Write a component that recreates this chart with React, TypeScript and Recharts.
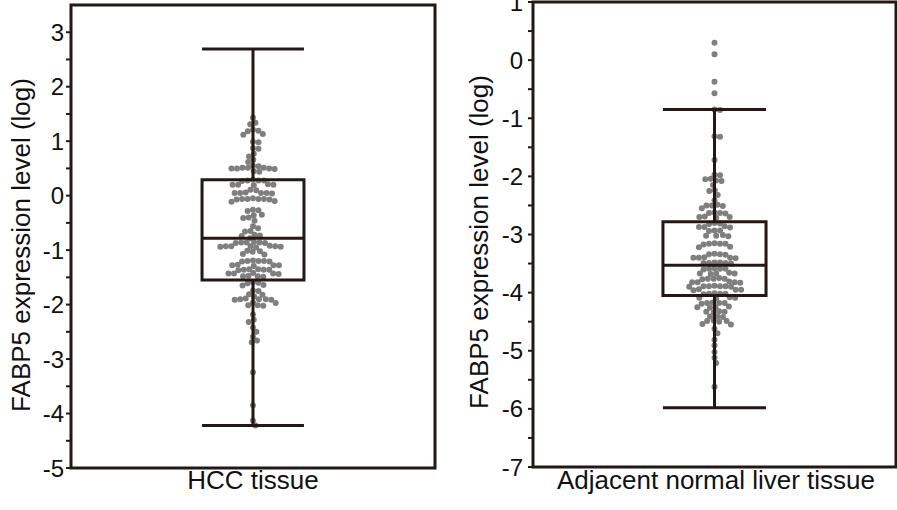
import React from 'react';
import { ScatterChart, Scatter, XAxis, YAxis, ReferenceArea, ReferenceLine } from 'recharts';

// FABP5 expression (log), one dot per sample
const hccValues = [
  1.43, 1.34, 1.31, 1.21, 1.19, 1.18, 1.13, 1.12, 0.99, 0.98, 0.87, 0.86, 0.77, 0.72, 0.66, 0.62, 0.55, 0.54,
  0.51, 0.51, 0.5, 0.5, 0.51, 0.49, 0.5, 0.45, 0.44,
  0.29, 0.28, 0.28, 0.27, 0.28,
  0.21, 0.2, 0.2, 0.19, 0.2,
  0.11, 0.1,
  0.05, 0.06, 0.05, 0.04, 0.05, 0.05,
  -0.06, -0.06, -0.05, -0.07, -0.06, -0.06, -0.07,
  -0.1, -0.11,
  -0.27, -0.28, -0.26,
  -0.35, -0.36, -0.4, -0.41, -0.46, -0.56, -0.6, -0.65, -0.66,
  -0.73, -0.72, -0.74, -0.78,
  -0.86, -0.87, -0.86, -0.85, -0.87, -0.86,
  -0.93, -0.94, -0.93, -0.92, -0.94, -0.93, -0.95, -0.93,
  -1.02, -1.01, -1.03, -1.07, -1.08,
  -1.2, -1.21, -1.19, -1.2, -1.21, -1.2,
  -1.28, -1.29, -1.28, -1.27, -1.28,
  -1.36, -1.35, -1.37, -1.36, -1.36, -1.35,
  -1.43, -1.44, -1.43, -1.42, -1.43,
  -1.48, -1.49, -1.48, -1.47,
  -1.6, -1.61, -1.59, -1.64, -1.65,
  -1.74, -1.75, -1.81, -1.82, -1.85,
  -1.9, -1.91, -1.9, -1.89, -1.9, -1.91,
  -1.96, -1.97,
  -2.01, -2.02, -2.01,
  -2.18, -2.28, -2.32, -2.42, -2.5, -2.59, -2.66, -2.69, -3.24, -3.85, -4.13, -4.22,
];

const adjValues = [
  0.3, 0.1, -0.37, -0.57, -0.85, -0.86, -1.31, -1.32, -1.72,
  -1.97, -1.98, -2.04, -2.05, -2.07, -2.08,
  -2.15, -2.24, -2.25, -2.32, -2.41,
  -2.5, -2.51, -2.5, -2.49, -2.55,
  -2.63, -2.64, -2.63, -2.62,
  -2.7, -2.71, -2.7, -2.69,
  -2.81, -2.82, -2.8,
  -2.87, -2.88, -2.87, -2.86,
  -2.93, -2.94, -2.93,
  -3.02, -3.03, -3.02, -3.01,
  -3.16, -3.17, -3.16, -3.15, -3.16,
  -3.21, -3.22,
  -3.34, -3.35, -3.34, -3.33,
  -3.4, -3.41, -3.4, -3.39, -3.4,
  -3.49, -3.48, -3.49, -3.5, -3.49, -3.48,
  -3.59, -3.6, -3.59, -3.58, -3.59,
  -3.67, -3.68, -3.67, -3.66, -3.67,
  -3.76, -3.77, -3.76, -3.75, -3.76,
  -3.82, -3.83, -3.82, -3.81, -3.82,
  -3.89, -3.9, -3.89, -3.88, -3.89, -3.9, -3.89,
  -3.95, -3.96, -3.95, -3.94,
  -4.02, -4.03, -4.02, -4.01, -4.02,
  -4.09, -4.1, -4.09, -4.08,
  -4.18, -4.19, -4.18, -4.17, -4.18,
  -4.25, -4.26, -4.25, -4.24,
  -4.33, -4.34, -4.33, -4.32,
  -4.41, -4.42, -4.41,
  -4.49, -4.5, -4.49, -4.48,
  -4.54, -4.55,
  -4.62, -4.7, -4.81, -4.91, -5.02, -5.12, -5.21, -5.62,
];

// [lower whisker, Q1, median, Q3, upper whisker]
const hccBox = [-4.22, -1.55, -0.78, 0.29, 2.69];
const adjBox = [-5.98, -4.05, -3.53, -2.78, -0.85];

const hccTicks = [-5, -4.5, -4, -3.5, -3, -2.5, -2, -1.5, -1, -0.5, 0, 0.5, 1, 1.5, 2, 2.5, 3];
const adjTicks = [-7, -6.5, -6, -5.5, -5, -4.5, -4, -3.5, -3, -2.5, -2, -1.5, -1, -0.5, 0, 0.5, 1];

const INK = '#231815';
const DOT = '#7f7f7f';
const FONT = '"Liberation Sans", Arial, Helvetica, sans-serif';
const DOT_R = 3;

// simple beeswarm: keep each dot as close to the centre as it can go without overlap
function swarm(values: number[], pxY: number, pxX: number, d: number) {
  const order = values.map((_, i) => i).sort((a, b) => values[b] - values[a]);
  const placed: { x: number; y: number }[] = [];
  const out: { x: number; y: number }[] = new Array(values.length);
  for (const i of order) {
    const y = values[i] * pxY;
    const blocks = placed
      .filter((p) => Math.abs(p.y - y) < d)
      .map((p) => {
        const h = Math.sqrt(d * d - (p.y - y) ** 2);
        return [p.x - h, p.x + h];
      });
    const cands = [0, ...blocks.flat()].sort((a, b) => Math.abs(a) - Math.abs(b) || b - a);
    const x = cands.find((c) => blocks.every(([lo, hi]) => c <= lo + 1e-6 || c >= hi - 1e-6)) ?? 0;
    placed.push({ x, y });
    out[i] = { x: x / pxX, y: values[i] };
  }
  return out;
}

const YTitle = ({ cx, cy }: { cx: number; cy: number }) => (
  <text
    x={cx}
    y={cy}
    transform={`rotate(-90 ${cx} ${cy})`}
    textAnchor="middle"
    dominantBaseline="central"
    fontSize={26}
    fontFamily={FONT}
    fill="#111"
  >
    FABP5 expression level (log)
  </text>
);

const XTitle = ({ cx, y, text }: { cx: number; y: number; text: string }) => (
  <text x={cx} y={y} textAnchor="middle" fontSize={26} fontFamily={FONT} fill="#111">
    {text}
  </text>
);

type PanelProps = {
  values: number[];
  box: number[];
  ticks: number[];
  domain: [number, number];
  width: number;
  margin: { top: number; right: number; bottom: number; left: number };
  yAxisWidth: number;
  xAxisHeight: number;
  tickMargin: number;
  xTitle: string;
  xTitleX: number;
  xTitleY: number;
  yTitleX: number;
  yTitleY: number;
  boxHalf: number;
};

const Panel: React.FC<PanelProps> = (p) => {
  const height = 510;
  const plotH = height - p.margin.top - p.margin.bottom - p.xAxisHeight;
  const plotW = p.width - p.margin.left - p.margin.right - p.yAxisWidth;
  const pxY = plotH / (p.domain[1] - p.domain[0]);
  const pxX = plotW / 2;
  const points = swarm(p.values, pxY, pxX, 5.5);
  const [lo, q1, med, q3, hi] = p.box;
  const w = p.boxHalf;
  const line = { stroke: INK, strokeWidth: 3, ifOverflow: 'visible' as const, zIndex: 1000 };

  return (
    <ScatterChart width={p.width} height={height} margin={p.margin} accessibilityLayer={false}>
      <XAxis
        type="number"
        dataKey="x"
        domain={[-1, 1]}
        height={p.xAxisHeight}
        tick={false}
        tickLine={false}
        axisLine={false}
        label={<XTitle cx={p.xTitleX} y={p.xTitleY} text={p.xTitle} />}
      />
      <YAxis
        type="number"
        dataKey="y"
        domain={p.domain}
        ticks={p.ticks}
        interval={0}
        width={p.yAxisWidth}
        axisLine={false}
        tickLine={{ stroke: INK, strokeWidth: 2 }}
        tickSize={5}
        tickMargin={p.tickMargin}
        tickFormatter={(v: number) => (Number.isInteger(v) ? String(v) : '')}
        tick={{ fill: '#111', fontSize: 24, fontFamily: FONT }}
        label={<YTitle cx={p.yTitleX} cy={p.yTitleY} />}
      />
      <Scatter
        data={points}
        isAnimationActive={false}
        shape={(s: any) => <circle cx={s.cx} cy={s.cy} r={DOT_R} fill={DOT} />}
      />
      <ReferenceArea x1={-w} x2={w} y1={q1} y2={q3} fill="none" fillOpacity={0} {...line} />
      <ReferenceLine segment={[{ x: -w, y: med }, { x: w, y: med }]} {...line} />
      <ReferenceLine segment={[{ x: 0, y: q3 }, { x: 0, y: hi }]} {...line} />
      <ReferenceLine segment={[{ x: 0, y: lo }, { x: 0, y: q1 }]} {...line} />
      <ReferenceLine segment={[{ x: -w, y: hi }, { x: w, y: hi }]} {...line} />
      <ReferenceLine segment={[{ x: -w, y: lo }, { x: w, y: lo }]} {...line} />
      <ReferenceArea
        x1={-1}
        x2={1}
        y1={p.domain[0]}
        y2={p.domain[1]}
        fill="none"
        fillOpacity={0}
        {...line}
      />
    </ScatterChart>
  );
};

export default function App() {
  return (
    <div style={{ position: 'absolute', left: 0, top: 0, width: 897, height: 510, background: '#fff', overflow: 'hidden' }}>
      <div style={{ position: 'absolute', left: 0, top: 0 }}>
        <Panel
          values={hccValues}
          box={hccBox}
          ticks={hccTicks}
          domain={[-5, 3.5]}
          width={450}
          margin={{ top: 5, right: 15, bottom: 0, left: 0 }}
          yAxisWidth={71}
          xAxisHeight={42}
          tickMargin={2}
          xTitle="HCC tissue"
          xTitleX={253}
          xTitleY={493}
          yTitleX={21}
          yTitleY={245}
          boxHalf={0.28}
        />
      </div>
      <div style={{ position: 'absolute', left: 450, top: 0 }}>
        <Panel
          values={adjValues}
          box={adjBox}
          ticks={adjTicks}
          domain={[-7, 1]}
          width={447}
          margin={{ top: 2, right: 1, bottom: 0, left: 0 }}
          yAxisWidth={83}
          xAxisHeight={43}
          tickMargin={5}
          xTitle="Adjacent normal liver tissue"
          xTitleX={266}
          xTitleY={503}
          yTitleX={29}
          yTitleY={242}
          boxHalf={0.284}
        />
      </div>
    </div>
  );
}
